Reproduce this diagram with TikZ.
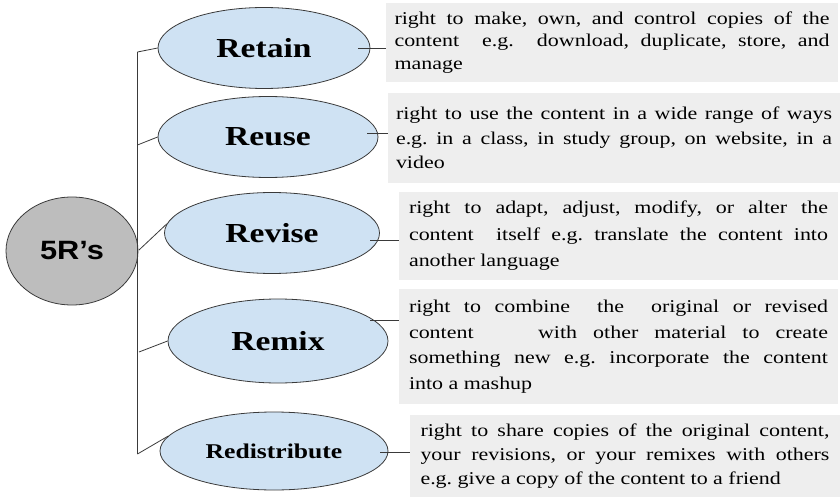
\documentclass[tikz,border=0pt]{standalone}
\usepackage{fontspec}
\setmainfont{Liberation Serif}[FakeStretch=1.22]
\newfontfamily\rootfont{Liberation Sans}[FakeStretch=1.16]
\usetikzlibrary{shapes.geometric}
\frenchspacing

\definecolor{ovalfill}{HTML}{CFE2F3}
\definecolor{rootfill}{HTML}{BDBDBD}
\definecolor{notefill}{HTML}{EEEEEE}
\definecolor{edgegray}{HTML}{3A3A3A}

\tikzset{
  rootnode/.style={ellipse, draw=edgegray, line width=0.8pt, fill=rootfill,
    inner sep=0pt, font=\rootfont\bfseries\fontsize{26.5}{30}\selectfont},
  oval/.style={ellipse, draw=edgegray, line width=0.8pt, fill=ovalfill,
    inner sep=0pt, font=\bfseries\fontsize{27.5}{30}\selectfont},
  note/.style={rectangle, fill=notefill, inner sep=0pt, align=justify,
    font=\fontsize{18}{24}\selectfont},
  link/.style={draw=edgegray, line width=0.8pt}
}

\begin{document}
\tolerance=10000
\hbadness=10000
\begin{tikzpicture}[x=1pt, y=-1pt]
\useasboundingbox (0,0) rectangle (840,497);

% central node
\node[rootnode, minimum width=132, minimum height=108] (root) at (72,251) {5R’s};

% the five rights
\node[oval, minimum width=212, minimum height=81] (retain) at (264,48) {Retain};
\node[oval, minimum width=220, minimum height=81] (reuse) at (268,137) {Reuse};
\node[oval, minimum width=215, minimum height=81] (revise) at (272,233) {Revise};
\node[oval, minimum width=220, minimum height=84] (remix) at (278,341) {Remix};
\node[oval, minimum width=228, minimum height=78,
      font=\bfseries\fontsize{21}{24}\selectfont] (redistribute) at (274,451) {Redistribute};

% descriptions
\node[note, minimum width=452, minimum height=79, text width=435,
      font=\fontsize{18}{22.5}\selectfont] (d1) at (612,42.5)
  {right to make, own, and control copies of the\linebreak
   content\ \ e.g.\ \ download, duplicate, store, and\linebreak
   manage};
\node[note, minimum width=452, minimum height=90, text width=436,
      font=\fontsize{18}{24.5}\selectfont] (d2) at (614,138)
  {right to use the content in a wide range of ways\linebreak
   e.g. in a class, in study group, on website, in a\linebreak
   video};
\node[note, minimum width=439, minimum height=88, text width=419,
      font=\fontsize{18}{26.5}\selectfont] (d3) at (618.5,236)
  {right to adapt, adjust, modify, or alter the\linebreak
   content\ \ itself e.g. translate the content into\linebreak
   another language};
\node[note, minimum width=439, minimum height=115, text width=419,
      font=\fontsize{18}{25.5}\selectfont] (d4) at (618.5,346.5)
  {right to combine\ \ the\ \ original or revised\linebreak
   content\ \ \ \ with other material to create\linebreak
   something new e.g. incorporate the content\linebreak
   into a mashup};
\node[note, minimum width=430, minimum height=82, text width=409,
      font=\fontsize{18}{24}\selectfont] (d5) at (625,456)
  {right to share copies of the original content,\linebreak
   your revisions, or your remixes with others\linebreak
   e.g. give a copy of the content to a friend};

% trunk and branches
\coordinate (t1) at (137.5,52);
\coordinate (t2) at (137.5,145);
\coordinate (t3) at (139,250);
\coordinate (t4) at (139,352);
\coordinate (t5) at (137.5,454);
\draw[link] (t1) -- (t5);
\draw[link] (t1) -- (retain.west);
\draw[link] (t2) -- (reuse.west);
\draw[link] (t3) -- (revise.175);
\draw[link] (t4) -- (remix.west);
\draw[link] (t5) -- (redistribute.172);

% ties from each right to its description
\coordinate (r1) at (358,48);
\coordinate (r2) at (367,133);
\coordinate (r3) at (370,240);
\coordinate (r4) at (370,320);
\coordinate (r5) at (380,452);
\draw[link] (r1) -- (r1 -| d1.west);
\draw[link] (r2) -- (r2 -| d2.west);
\draw[link] (r3) -- (r3 -| d3.west);
\draw[link] (r4) -- (r4 -| d4.west);
\draw[link] (r5) -- (r5 -| d5.west);
\end{tikzpicture}
\end{document}
